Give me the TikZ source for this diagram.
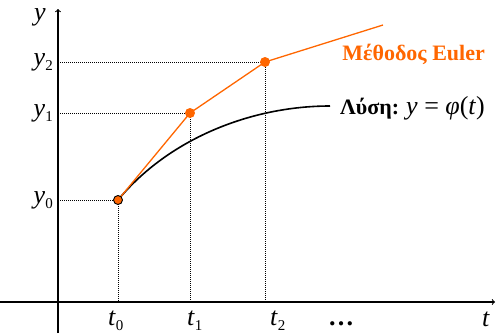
\documentclass[tikz,border=0pt]{standalone}
\usepackage{fontspec}
\setmainfont{Liberation Serif}
\usetikzlibrary{positioning}
\definecolor{eulerorange}{RGB}{255,102,0}
\newcommand{\lbl}[2]{\textit{#1}\raisebox{-5pt}{\fontsize{15}{15}\selectfont #2}}

\begin{document}
\begin{tikzpicture}[x=1pt, y=-1pt, font=\fontsize{26}{28}\selectfont,
  axis/.style={line width=1.1pt, ->},
  guide/.style={line width=1pt, dash pattern=on 1pt off 1pt},
  euler/.style={eulerorange, line width=1.3pt},
  solution/.style={line width=1.6pt},
  dot/.style={circle, fill=eulerorange, inner sep=0pt, minimum size=10pt}]
  \useasboundingbox (0,0) rectangle (496,333);
  % axes
  \coordinate (xstart) at (0,302);
  \coordinate (xend) at (495,302);
  \coordinate (ystart) at (58,333);
  \coordinate (yend) at (58,9);
  \draw[axis] (xstart) -- (xend);
  \draw[axis] (ystart) -- (yend);
  % Euler steps
  \coordinate (e0) at (118,200);
  \coordinate (e1) at (190,113);
  \coordinate (e2) at (265,62);
  \coordinate (e3) at (383,25);
  \coordinate (s) at (330,106);
  \draw[guide] (e0 -| yend) -- (e0) -- (e0 |- xend);
  \draw[guide] (e1 -| yend) -- (e1) -- (e1 |- xend);
  \draw[guide] (e2 -| yend) -- (e2) -- (e2 |- xend);
  \draw[solution] (e0) .. controls (168,139.5) and (250,106) .. (s);
  \draw[euler] (e0) -- (e1) -- (e2) -- (e3);
  \node[dot, draw=black, line width=0.9pt, minimum size=9pt] (d0) at (e0) {};
  \node[dot] (d1) at (e1) {};
  \node[dot] (d2) at (e2) {};
  % labels
  \node[anchor=base] (ylbl) at (40,20) {\textit{y}};
  \node[anchor=base east, inner sep=0pt] (y0) at (53,203) {\lbl{y}{0}};
  \node[anchor=base east, inner sep=0pt] (y1) at (53,116) {\lbl{y}{1}};
  \node[anchor=base east, inner sep=0pt] (y2) at (53,65) {\lbl{y}{2}};
  \node[anchor=base west, inner sep=0pt] (t0) at (108,325) {\lbl{t}{0}};
  \node[anchor=base west, inner sep=0pt] (t1) at (187,325) {\lbl{t}{1}};
  \node[anchor=base west, inner sep=0pt] (t2) at (270,325) {\lbl{t}{2}};
  \node[anchor=base west, inner sep=0pt] (dots) at (328,325) {\textbf{…}};
  \node[anchor=base west, inner sep=0pt] (tlbl) at (482,326) {\textit{t}};
  \node[anchor=base east, inner sep=0pt, text=eulerorange, font=\fontsize{22}{24}\selectfont\bfseries] (method) at (485,60) {Μέθοδος Euler};
  \node[anchor=base west, inner sep=0pt, font=\fontsize{22}{24}\selectfont\bfseries] (soltext) at (340,114) {Λύση:};
  \node[anchor=base west, inner sep=0pt] (solmath) at (406,114) {\textit{y} = \textit{φ}(\textit{t})};
\end{tikzpicture}
\end{document}
